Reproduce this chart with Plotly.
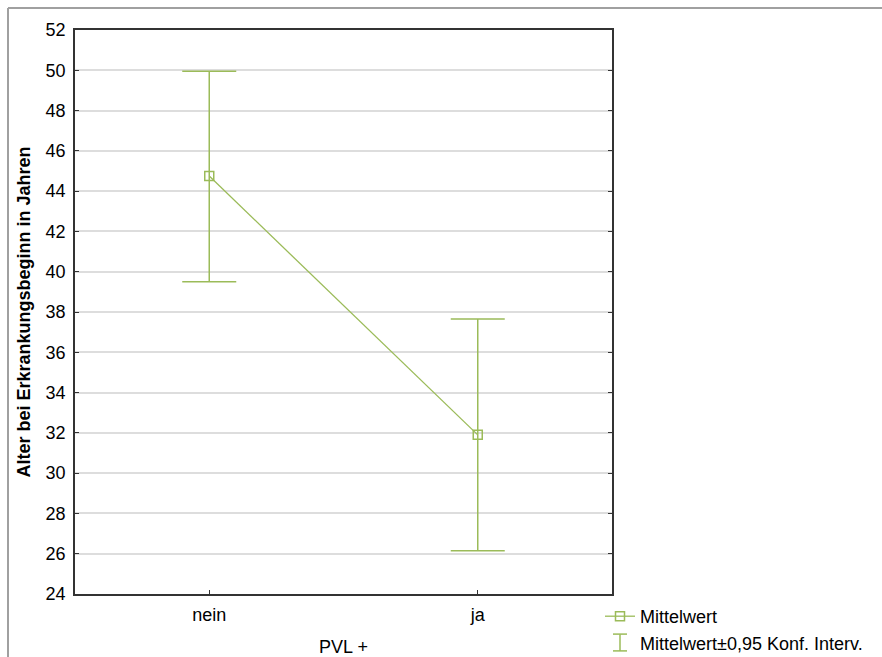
import plotly.graph_objects as go

categories = ["nein", "ja"]
means = [44.75, 31.9]
upper = [49.95, 37.65]
lower = [39.5, 26.15]
y_ticks = list(range(24, 53, 2))

err_plus = [u - m for u, m in zip(upper, means)]
err_minus = [m - l for m, l in zip(means, lower)]

green = "#9bbb59"
font = "Liberation Sans, Arial, sans-serif"

W, H = 882, 657
L, R, T, B = 75, 612, 30, 594  # plot area in pixels


def px_x(p):
    return (p - L) / (R - L)


def px_y(p):
    return (B - p) / (B - T)


fig = go.Figure()
fig.add_trace(go.Scatter(
    x=categories, y=means, mode="lines+markers", name="Mittelwert",
    line=dict(color=green, width=1.3),
    marker=dict(symbol="square-open", size=9, color=green, line=dict(width=1.5)),
    error_y=dict(type="data", symmetric=False, array=err_plus, arrayminus=err_minus,
                 color=green, thickness=1.5, width=27),
))
fig.add_trace(go.Scatter(
    x=[None], y=[None], mode="markers", name="Mittelwert±0,95 Konf. Interv.",
    marker=dict(symbol="line-ns-open", size=12, color=green, line=dict(width=1.5, color=green)),
))

legend_x_px, legend_y_px = 600, 598
sym_x = legend_x_px + 20
row2_y = legend_y_px + 44.5
cap = 8.4

shapes = [
    dict(type="line", xref="paper", yref="paper",
         x0=px_x(8), x1=px_x(W + 5), y0=px_y(8), y1=px_y(8),
         line=dict(color="#a0a0a0", width=2), layer="below"),
    dict(type="line", xref="paper", yref="paper",
         x0=px_x(8), x1=px_x(8), y0=px_y(8), y1=px_y(H + 5),
         line=dict(color="#a0a0a0", width=2), layer="below"),
]
for dy in (-cap, cap):
    shapes.append(dict(type="line", xref="paper", yref="paper",
                       x0=px_x(sym_x - 7), x1=px_x(sym_x + 7),
                       y0=px_y(row2_y + dy), y1=px_y(row2_y + dy),
                       line=dict(color=green, width=1.5)))

fig.update_layout(
    width=W, height=H,
    margin=dict(l=L, r=W - R, t=T, b=H - B, autoexpand=False),
    paper_bgcolor="white", plot_bgcolor="white",
    font=dict(family=font, size=18, color="black"),
    showlegend=True,
    legend=dict(xref="container", yref="container",
                x=legend_x_px / W, y=(H - legend_y_px) / H, xanchor="left", yanchor="top",
                bgcolor="rgba(0,0,0,0)", font=dict(size=18), tracegroupgap=0,
                itemwidth=30),
    xaxis=dict(
        type="category", range=[-0.5, 1.5],
        showline=True, linecolor="#333", linewidth=1.5, mirror=True,
        ticks="inside", ticklen=4, tickcolor="#333", ticklabelstandoff=4,
        showgrid=False, zeroline=False,
        title=dict(text="PVL +", font=dict(size=18), standoff=16),
    ),
    yaxis=dict(
        range=[24, 52], tickvals=y_ticks,
        showline=True, linecolor="#333", linewidth=1.5, mirror="ticks",
        ticks="inside", ticklen=4, tickcolor="#333", ticklabelstandoff=4,
        showgrid=True, gridcolor="#dddddd", gridwidth=1.5, zeroline=False,
        title=dict(text="<b>Alter bei Erkrankungsbeginn in Jahren</b>", font=dict(size=18), standoff=10),
    ),
    shapes=shapes,
)

fig.write_html("out.html")
